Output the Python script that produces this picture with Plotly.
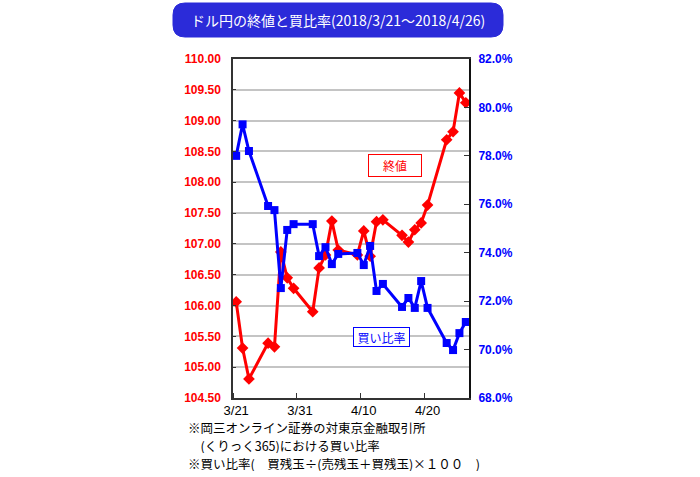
import plotly.graph_objects as go

# ---- data ----
dates = ["2018-03-21", "2018-03-22", "2018-03-23", "2018-03-26", "2018-03-27", "2018-03-28",
         "2018-03-29", "2018-03-30", "2018-04-02", "2018-04-03", "2018-04-04", "2018-04-05",
         "2018-04-06", "2018-04-09", "2018-04-10", "2018-04-11", "2018-04-12", "2018-04-13",
         "2018-04-16", "2018-04-17", "2018-04-18", "2018-04-19", "2018-04-20", "2018-04-23",
         "2018-04-24", "2018-04-25", "2018-04-26"]
close_price = [106.06, 105.31, 104.81, 105.39, 105.33, 106.87,
               106.45, 106.28, 105.90, 106.61, 106.82, 107.37,
               106.90, 106.82, 107.21, 106.80, 107.36, 107.39,
               107.14, 107.03, 107.23, 107.34, 107.63, 108.69,
               108.82, 109.45, 109.29]
buy_ratio = [78.0, 79.3, 78.2, 75.93, 75.76, 72.54,
             74.94, 75.18, 75.18, 73.86, 74.23, 73.53,
             73.95, 73.99, 73.49, 74.28, 72.42, 72.71,
             71.76, 72.13, 71.72, 72.83, 71.72, 70.27,
             69.98, 70.68, 71.14]
x_tickvals = ["2018-03-21", "2018-03-31", "2018-04-10", "2018-04-20"]
x_ticktext = ["3/21", "3/31", "4/10", "4/20"]

title_text = "ドル円の終値と買比率(2018/3/21〜2018/4/26)"
notes = ["※岡三オンライン証券の対東京金融取引所",
         "\u3000(くりっく365)における買い比率",
         "※買い比率(\u3000買残玉÷(売残玉＋買残玉)×１００\u3000)"]

# ---- layout geometry (pixels) ----
W, H = 700, 477
PL, PR, PT, PB = 233, 469, 59, 398


def px(x):
    return (x - PL) / (PR - PL)


def py(y):
    return (PB - y) / (PB - PT)


RED = "#ff0000"
BLUE = "#0000ff"
JP = "Noto Sans CJK JP"

fig = go.Figure()
fig.add_trace(go.Scatter(
    x=dates, y=close_price, mode="lines+markers", name="終値",
    line=dict(color=RED, width=3),
    marker=dict(symbol="diamond", size=9, color=RED),
    yaxis="y"))
fig.add_trace(go.Scatter(
    x=dates, y=buy_ratio, mode="lines+markers", name="買い比率",
    line=dict(color=BLUE, width=3),
    marker=dict(symbol="square", size=8, color=BLUE),
    yaxis="y2"))

fig.update_layout(
    width=W, height=H,
    margin=dict(l=PL, r=W - PR, t=PT, b=H - PB),
    paper_bgcolor="white", plot_bgcolor="white",
    showlegend=False,
    xaxis=dict(
        type="date",
        range=["2018-03-20 12:00", "2018-04-26 12:00"],
        tickvals=x_tickvals, ticktext=x_ticktext, ticks="",
        tickfont=dict(family="Liberation Sans, Arial", size=13, color="black"),
        showgrid=False, zeroline=False,
        showline=True, linecolor="#333333", linewidth=1.5, mirror=True,
        minor=dict(ticks="inside", ticklen=5, tickcolor="#333333",
                   tick0="2018-03-20 12:00", dtick=10 * 86400000, showgrid=False),
    ),
    yaxis=dict(
        range=[104.5, 110.0], dtick=0.5, tickformat=".2f",
        tickfont=dict(family="Liberation Sans, Arial", size=12, color=RED, weight="bold"),
        ticks="inside", ticklen=3, tickcolor="#333333",
        showgrid=True, gridcolor="#c4c4c4", gridwidth=1.5,
        zeroline=False, showline=True, linecolor="#333333", linewidth=1.5,
        ticklabelstandoff=8,
    ),
    yaxis2=dict(
        range=[68.0, 82.0], dtick=2, tickformat=".1f", ticksuffix="%",
        overlaying="y", side="right",
        tickfont=dict(family="Liberation Sans, Arial", size=12, color=BLUE, weight="bold"),
        ticks="inside", ticklen=5, tickcolor="#333333",
        showgrid=False, zeroline=False,
        showline=True, linecolor="#111111", linewidth=2,
        ticklabelstandoff=5,
    ),
)

# title rounded box
x0, x1 = px(173), px(503)
y0, y1 = py(37), py(3)
r = 12
rx = r / (PR - PL)
ry = r / (PB - PT)
path = (f"M {x0+rx},{y1} L {x1-rx},{y1} Q {x1},{y1} {x1},{y1-ry} "
        f"L {x1},{y0+ry} Q {x1},{y0} {x1-rx},{y0} L {x0+rx},{y0} "
        f"Q {x0},{y0} {x0},{y0+ry} L {x0},{y1-ry} Q {x0},{y1} {x0+rx},{y1} Z")
fig.add_shape(type="path", path=path, xref="paper", yref="paper",
              fillcolor="#2b2bd9", line=dict(color="#2b2bd9", width=1), layer="below")
fig.add_annotation(x=px(338), y=py(20), xref="paper", yref="paper",
                   xanchor="center", yanchor="middle",
                   text=title_text, showarrow=False,
                   font=dict(family=JP, size=14, color="white"))

# series label boxes
fig.add_annotation(x=px(395), y=py(165), xref="paper", yref="paper",
                   xanchor="center", yanchor="middle",
                   text="終値", showarrow=False,
                   font=dict(family=JP, size=12, color=RED),
                   bgcolor="white", bordercolor=RED, borderwidth=1,
                   width=50, height=19)
fig.add_annotation(x=px(381), y=py(337), xref="paper", yref="paper",
                   xanchor="center", yanchor="middle",
                   text="買い比率", showarrow=False,
                   font=dict(family=JP, size=12, color=BLUE),
                   bgcolor="white", bordercolor=BLUE, borderwidth=1,
                   width=53, height=16)

# footnotes
note_y = [427, 445, 463]
for t, yy in zip(notes, note_y):
    fig.add_annotation(x=px(186), y=py(yy), xref="paper", yref="paper",
                       text=t, showarrow=False, xanchor="left", yanchor="middle",
                       height=16, valign="middle",
                       font=dict(family=JP, size=12.5, color="black"))

fig.write_html("out.html")
